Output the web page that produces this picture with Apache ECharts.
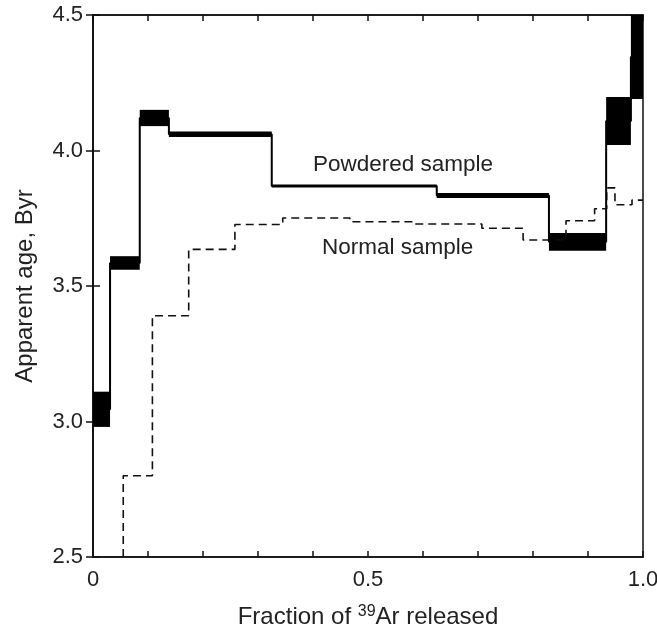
<!DOCTYPE html>
<html lang="en">
<head>
    <meta charset="utf-8">
    <script src="https://cdn.jsdelivr.net/npm/echarts@6/dist/echarts.min.js"></script>
    <style>
        html, body { margin: 0; padding: 0; background: #fff; }
        #chart { width: 657px; height: 629px; }
    </style>
</head>
<body>
    <div id="chart"></div>
    <script type="text/javascript">
        // powdered sample: step edges (fraction of 39Ar) and age band of each step (Byr)
        var powderEdges = [0, 0.031, 0.085, 0.138, 0.325, 0.625, 0.829, 0.933, 0.978, 1.0];
        var powderLow  = [2.98, 3.56, 4.09, 4.05, 3.864, 3.825, 3.63, 4.02, 4.19];
        var powderHigh = [3.11, 3.61, 4.15, 4.07, 3.874, 3.843, 3.696, 4.197, 4.5];

        // normal sample: step edges and ages (dashed line)
        var normalEdges = [0.055, 0.108, 0.174, 0.258, 0.345, 0.467, 0.582, 0.707, 0.782, 0.86, 0.912, 0.934, 0.949, 0.98, 1.0];
        var normalAge   = [2.80, 3.39, 3.635, 3.727, 3.751, 3.737, 3.729, 3.713, 3.670, 3.741, 3.785, 3.862, 3.800, 3.817];

        var xLabels = {'0': '0', '0.5': '0.5', '1': '1.0'};

        var chart = echarts.init(document.getElementById('chart'));

        // boxes for the powdered sample, plus thin line joining them
        var boxes = [];
        var connect = [];
        for (var i = 0; i < powderLow.length; i++) {
            boxes.push([powderEdges[i], powderEdges[i + 1], powderLow[i], powderHigh[i]]);
            var mid = (powderLow[i] + Math.min(powderHigh[i], 4.5)) / 2;
            connect.push([powderEdges[i], mid]);
            connect.push([powderEdges[i + 1], mid]);
        }

        var normalLine = [[normalEdges[0], 2.5]];
        for (var j = 0; j < normalAge.length; j++) {
            normalLine.push([normalEdges[j], normalAge[j]]);
            normalLine.push([normalEdges[j + 1], normalAge[j]]);
        }

        var font = 'Liberation Sans, Arial, sans-serif';

        var option = {
            backgroundColor: '#fff',
            animation: false,
            grid: {
                left: 93, right: 14, top: 15, bottom: 72,
                outerBoundsMode: 'none', containLabel: false,
                show: true, borderColor: '#111', borderWidth: 1.5
            },
            xAxis: [{
                type: 'value', min: 0, max: 1, interval: 0.1,
                axisLine: { lineStyle: { color: '#111', width: 1.5 } },
                axisTick: { inside: true, length: 6, lineStyle: { color: '#111', width: 1.5 } },
                splitLine: { show: false },
                axisLabel: {
                    color: '#222', fontSize: 22, fontFamily: font, margin: 12,
                    formatter: function (v) {
                        var k = String(Math.round(v * 10) / 10);
                        return xLabels[k] !== undefined ? xLabels[k] : '';
                    }
                },
                name: '{a|Fraction of }{s|39}{a|Ar released}',
                nameLocation: 'middle', nameGap: 47,
                nameTextStyle: {
                    rich: {
                        a: { fontSize: 24, fontFamily: font, color: '#222' },
                        s: { fontSize: 16, fontFamily: font, color: '#222', verticalAlign: 'top', padding: [0, 0, 10, 0] }
                    }
                }
            }, {
                type: 'value', min: 0, max: 1, interval: 0.1, position: 'top',
                axisLine: { lineStyle: { color: '#111', width: 1.5 } },
                axisTick: { inside: true, length: 6, lineStyle: { color: '#111', width: 1.5 } },
                axisLabel: { show: false },
                splitLine: { show: false }
            }],
            yAxis: [{
                type: 'value', min: 2.5, max: 4.5, interval: 0.5,
                axisLine: { show: true, lineStyle: { color: '#111', width: 1.5 } },
                axisTick: { show: true, inside: true, length: 7, lineStyle: { color: '#111', width: 1.5 } },
                splitLine: { show: false },
                axisLabel: {
                    color: '#222', fontSize: 22, fontFamily: font, margin: 10,
                    formatter: function (v) { return v.toFixed(1); }
                },
                name: 'Apparent age, Byr',
                nameLocation: 'middle', nameGap: 56,
                nameTextStyle: { fontSize: 24, fontFamily: font, color: '#222' }
            }, {
                type: 'value', min: 2.5, max: 4.5, interval: 0.5, position: 'right',
                axisLine: { show: true, lineStyle: { color: '#111', width: 1.5 } },
                axisTick: { show: true, inside: true, length: 7, lineStyle: { color: '#111', width: 1.5 } },
                axisLabel: { show: false },
                splitLine: { show: false }
            }],
            series: [{
                name: 'Normal sample',
                type: 'line',
                data: normalLine,
                symbol: 'none',
                clip: true,
                lineStyle: { color: '#111', width: 1.6, type: [8, 5] }
            }, {
                name: 'Powdered connectors',
                type: 'line',
                data: connect,
                symbol: 'none',
                clip: true,
                lineStyle: { color: '#000', width: 2 }
            }, {
                name: 'Powdered sample',
                type: 'custom',
                clip: true,
                data: boxes,
                encode: { x: [0, 1], y: [2, 3] },
                renderItem: function (params, api) {
                    var p0 = api.coord([api.value(0), api.value(3)]);
                    var p1 = api.coord([api.value(1), api.value(2)]);
                    var h = Math.max(p1[1] - p0[1], 3);
                    var y = p0[1] + (p1[1] - p0[1]) / 2 - h / 2;
                    return {
                        type: 'rect',
                        shape: { x: p0[0], y: y, width: p1[0] - p0[0], height: h },
                        style: { fill: '#000' }
                    };
                }
            }],
            graphic: [{
                type: 'text', left: 313, top: 153,
                style: { text: 'Powdered sample', fontSize: 22.5, fontFamily: font, fill: '#222' }
            }, {
                type: 'text', left: 322, top: 236,
                style: { text: 'Normal sample', fontSize: 22.5, fontFamily: font, fill: '#222' }
            }]
        };

        chart.setOption(option);
    </script>
</body>
</html>
